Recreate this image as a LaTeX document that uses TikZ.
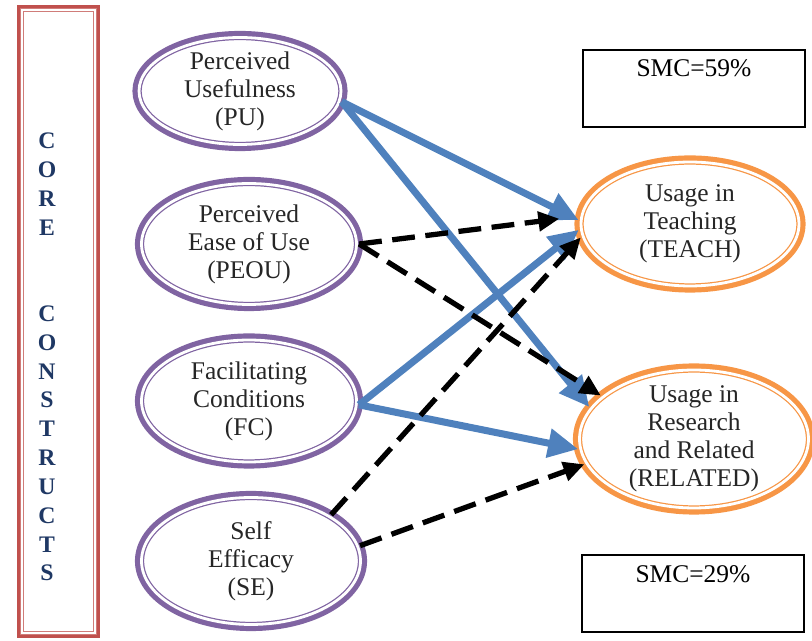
\documentclass[tikz,border=0pt]{standalone}
\usepackage{fontspec}
\setmainfont{Liberation Serif}
\usepackage{tikz}
\usetikzlibrary{shapes.geometric,arrows.meta}
\definecolor{coreviolet}{RGB}{128,100,162}
\definecolor{useorange}{RGB}{247,150,70}
\definecolor{pathblue}{RGB}{79,129,189}
\definecolor{barred}{RGB}{192,80,77}
\definecolor{letternavy}{RGB}{31,56,100}

\begin{document}
\begin{tikzpicture}[x=0.02cm, y=-0.02cm,
  ring/.style={ellipse, fill=white, draw=#1, line width=3pt,
    preaction={draw=#1, line width=7.5pt}, postaction={draw=white, line width=1.6pt},
    inner sep=-0.25cm, align=center, text=black!85, font=\fontsize{14.5}{16}\selectfont},
  construct/.style={ring=coreviolet},
  usage/.style={ring=useorange},
  smcbox/.style={draw, line width=1.3pt, minimum width=4.45cm, inner sep=0pt,
    text height=0.54cm, text depth=1.0cm, font=\fontsize{14.5}{17}\selectfont},
  corebar/.style={rectangle, fill=white, draw=barred!75, line width=2.6pt,
    preaction={draw=barred, line width=5.5pt}, postaction={draw=white, line width=1.4pt},
    minimum width=1.46cm, minimum height=12.46cm, inner sep=0pt},
  corelabel/.style={align=center, text=letternavy, font=\fontsize{13.5}{16.4}\selectfont\bfseries},
  blueflow/.style={draw=pathblue, line width=4pt, -{Triangle[length=0.6cm, width=0.56cm]}},
  dashflow/.style={draw=black, line width=3pt, dash pattern=on 13pt off 6pt,
    -{Triangle[length=0.42cm, width=0.38cm]}}
]
\useasboundingbox (0,0) rectangle (812,641);

% left bar
\node[corebar] (bar) at (58.5,321.5) {};
\node[corelabel] (core) at (47,357) {C\\O\\R\\E\\~\\~\\C\\O\\N\\S\\T\\R\\U\\C\\T\\S};

% constructs
\node[construct, minimum width=4.04cm, minimum height=2.14cm] (pu) at (240,91) {Perceived\\Usefulness\\(PU)};
\node[construct, minimum width=4.3cm, minimum height=2.42cm] (peou) at (249,244) {Perceived\\Ease of Use\\(PEOU)};
\node[construct, minimum width=4.3cm, minimum height=2.44cm] (fc) at (249,401) {Facilitating\\Conditions\\(FC)};
\node[construct, minimum width=4.38cm, minimum height=2.54cm] (se) at (251,561) {Self\\Efficacy\\(SE)};

% usage
\node[usage, minimum width=4.36cm, minimum height=2.48cm] (teach) at (690,224) {Usage in\\Teaching\\(TEACH)};
\node[usage, minimum width=4.58cm, minimum height=2.76cm] (related) at (694,439) {Usage in\\Research\\and Related\\(RELATED)};

\node[smcbox] (smcteach) at (694,88.5) {SMC=59\%};
\node[smcbox] (smcrelated) at (693,593.5) {SMC=29\%};

% paths
\draw[blueflow] (pu.-6) -- (teach.178);
\draw[blueflow] (pu.-6) -- (related.163);
\draw[blueflow] (fc.-2) -- (teach.183);
\draw[blueflow] (fc.-2) -- (related.185);
\draw[dashflow, shorten >=0.4cm] (peou.east) -- (teach.176);
\draw[dashflow] (peou.east) -- (related.155);
\draw[dashflow] (se.30) -- (teach.187);
\draw[dashflow] (se.8) -- (related.193);

\end{tikzpicture}
\end{document}
